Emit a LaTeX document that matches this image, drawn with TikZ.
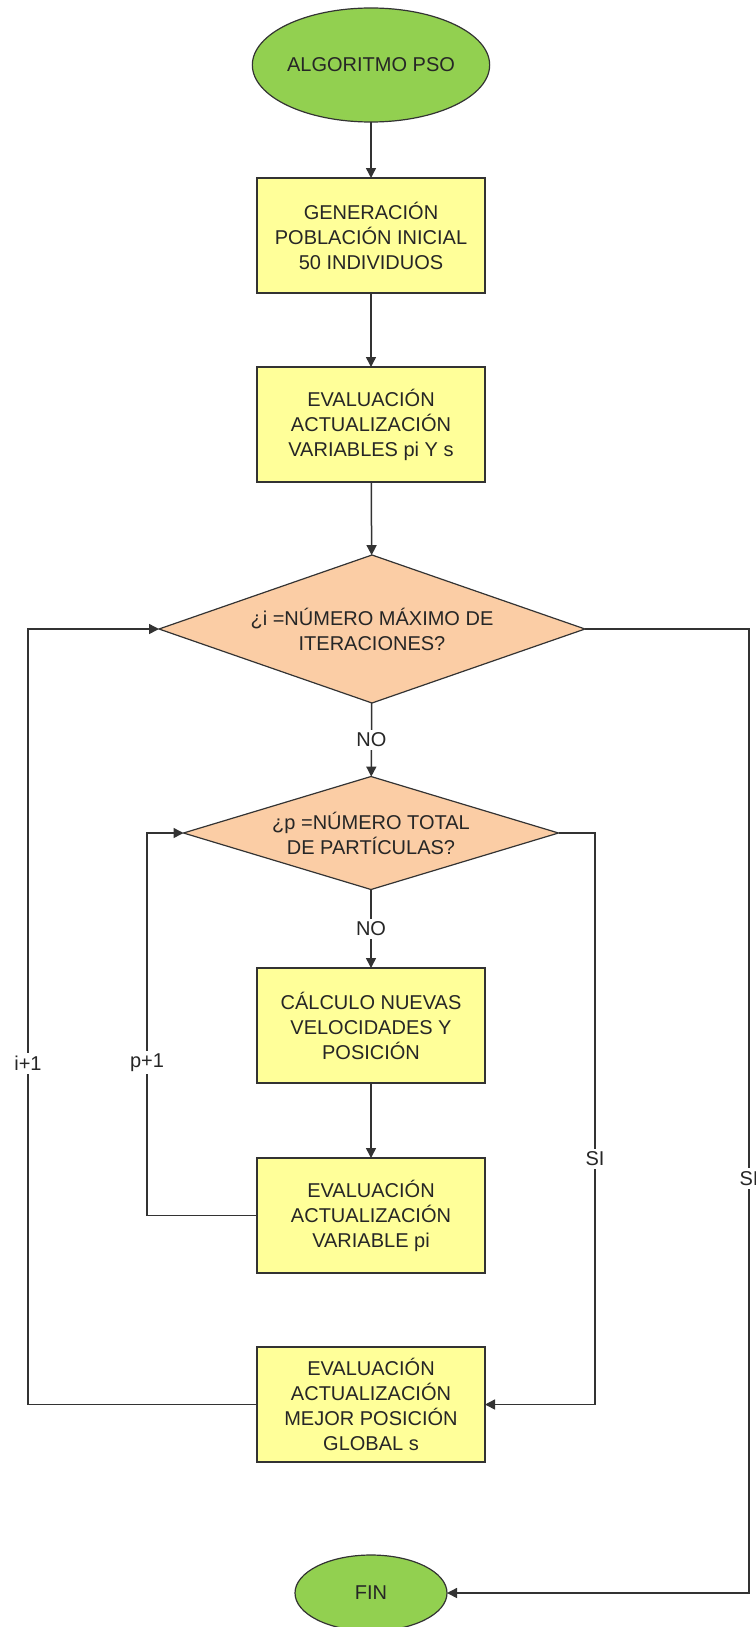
\documentclass[tikz,border=0pt]{standalone}
\usepackage{fontspec}
\setmainfont{Liberation Sans}
\usetikzlibrary{positioning}
\usetikzlibrary{arrows.meta}
\usetikzlibrary{shapes.geometric}
\definecolor{termgreen}{HTML}{92D050}
\definecolor{procyellow}{HTML}{FFFF99}
\definecolor{decpeach}{HTML}{FBCDA5}
\tikzset{
    every node/.append style={font=\fontsize{10pt}{12.5pt}\selectfont, align=center, outer sep=0pt, text=black!85},
    flow/.style={-{Triangle[length=5pt, width=5pt]}, line width=0.75pt, black!80},
    term/.style={ellipse, fill=termgreen, draw=black!80, line width=0.6pt, inner sep=0pt},
    proc/.style={rectangle, fill=procyellow, draw=black!80, line width=0.75pt, minimum width=114pt, minimum height=57.5pt, inner sep=0pt},
    decision/.style={diamond, fill=decpeach, draw=black!80, line width=0.6pt, inner sep=0pt},
    tag/.style={fill=white, inner sep=1.5pt},
    x=0.5pt, y=-0.5pt
}

\begin{document}
\begin{tikzpicture}
\useasboundingbox (0,0) rectangle (755,1627);
\node[term, minimum width=114pt, minimum height=57pt] (start) at (371,65) {ALGORITMO PSO};
\node[proc] (gen) at (371,235.5) {GENERACIÓN\\POBLACIÓN INICIAL\\50 INDIVIDUOS};
\node[proc] (evals) at (371,424.5) {EVALUACIÓN\\ACTUALIZACIÓN\\VARIABLES pi Y s};
\node[decision, shape aspect=2.88, minimum width=213pt, minimum height=74pt] (maxit) at (372,629) {¿i =NÚMERO MÁXIMO DE\\ITERACIONES?};
\node[decision, shape aspect=3.32, minimum width=187.5pt, minimum height=56.5pt] (totp) at (371,833) {¿p =NÚMERO TOTAL\\DE PARTÍCULAS?};
\node[proc] (calc) at (371,1025.5) {CÁLCULO NUEVAS\\VELOCIDADES Y\\POSICIÓN};
\node[proc] (evalp) at (371,1215.5) {EVALUACIÓN\\ACTUALIZACIÓN\\VARIABLE pi};
\node[proc] (best) at (371,1404.5) {EVALUACIÓN\\ACTUALIZACIÓN\\MEJOR POSICIÓN\\GLOBAL s};
\node[term, minimum width=76pt, minimum height=38pt] (fin) at (371,1593) {FIN};

\coordinate (icol) at (28,0);
\coordinate (pcol) at (147,0);
\coordinate (sicol) at (595,0);
\coordinate (socol) at (749,0);

\draw[flow] (start) -- (gen);
\draw[flow] (gen) -- (evals);
\draw[flow] (evals) -- (maxit);
\draw[flow] (maxit) -- node[tag] {NO} (totp);
\draw[flow] (totp) -- node[tag] {NO} (calc);
\draw[flow] (calc) -- (evalp);

% back loops
\draw[flow] (evalp.west) -- (evalp.west -| pcol) -- node[tag, pos=0.4] {p+1} (pcol |- totp.west) -- (totp.west);
\draw[flow] (best.west) -- (best.west -| icol) -- node[tag, pos=0.44] {i+1} (icol |- maxit.west) -- (maxit.west);

% exits
\draw[flow] (totp.east) -- (totp.east -| sicol) -- node[tag, pos=0.57] {SI} (sicol |- best.east) -- (best.east);
\draw[flow] (maxit.east) -- (maxit.east -| socol) -- node[tag, pos=0.57] {SI} (socol |- fin.east) -- (fin.east);
\end{tikzpicture}
\end{document}
